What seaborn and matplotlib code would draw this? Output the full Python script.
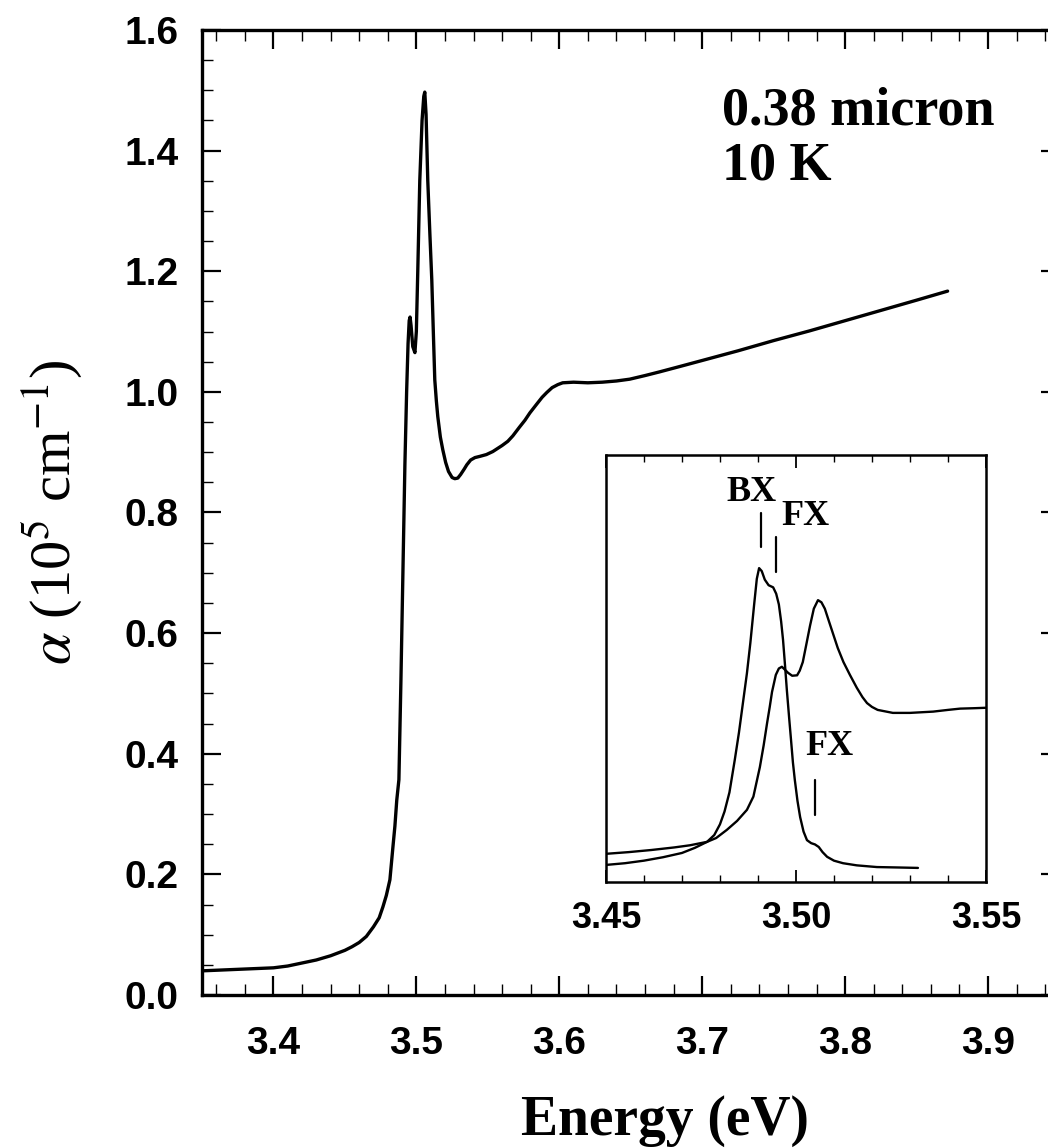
import numpy as np
import pandas as pd
import matplotlib
matplotlib.use("Agg")
import matplotlib.pyplot as plt
from matplotlib.ticker import FixedLocator, MultipleLocator, FormatStrFormatter
import seaborn as sns

# ---- absorption spectrum, 0.38 micron film at 10 K ----
energy_main = [3.3500, 3.3600, 3.3700, 3.3800, 3.3900, 3.4000, 3.4100, 3.4200, 3.4300,
               3.4400, 3.4500, 3.4550, 3.4600, 3.4650, 3.4700, 3.4740, 3.4766, 3.4790,
               3.4815, 3.4836, 3.4850, 3.4863, 3.4878, 3.4892, 3.4906, 3.4920, 3.4932,
               3.4942, 3.4950, 3.4956, 3.4963, 3.4975, 3.4990, 3.5000, 3.5010, 3.5024,
               3.5040, 3.5052, 3.5059, 3.5068, 3.5080, 3.5095, 3.5108, 3.5120, 3.5129,
               3.5140, 3.5150, 3.5168, 3.5185, 3.5205, 3.5225, 3.5250, 3.5269, 3.5290,
               3.5310, 3.5335, 3.5353, 3.5380, 3.5410, 3.5444, 3.5490, 3.5535, 3.5600,
               3.5640, 3.5675, 3.5720, 3.5760, 3.5794, 3.5840, 3.5880, 3.5913, 3.5950,
               3.5990, 3.6024, 3.6100, 3.6200, 3.6300, 3.6400, 3.6493, 3.6600, 3.6700,
               3.6843, 3.7000, 3.7250, 3.7500, 3.7750, 3.8000, 3.8250, 3.8500, 3.8717]
alpha_main = [0.040, 0.041, 0.042, 0.043, 0.044, 0.045, 0.048, 0.053, 0.058,
              0.065, 0.074, 0.080, 0.087, 0.097, 0.113, 0.128, 0.146, 0.165,
              0.191, 0.245, 0.280, 0.323, 0.357, 0.520, 0.700, 0.880, 1.000,
              1.080, 1.118, 1.124, 1.110, 1.075, 1.065, 1.100, 1.200, 1.350,
              1.450, 1.490, 1.497, 1.460, 1.350, 1.260, 1.186, 1.090, 1.020,
              0.985, 0.959, 0.925, 0.904, 0.883, 0.868, 0.858, 0.856, 0.857,
              0.863, 0.872, 0.879, 0.887, 0.891, 0.893, 0.896, 0.901, 0.911,
              0.918, 0.927, 0.941, 0.953, 0.965, 0.979, 0.991, 0.999, 1.007,
              1.012, 1.015, 1.016, 1.015, 1.016, 1.018, 1.021, 1.027, 1.033,
              1.042, 1.052, 1.068, 1.085, 1.101, 1.118, 1.135, 1.152, 1.167]

# ---- inset: band-edge region (arb. units) ----
energy_bx = [3.4500, 3.4550, 3.4600, 3.4650, 3.4700, 3.4734, 3.4766, 3.4785, 3.4800,
             3.4812, 3.4825, 3.4839, 3.4850, 3.4858, 3.4871, 3.4880, 3.4890, 3.4897,
             3.4903, 3.4910, 3.4918, 3.4928, 3.4940, 3.4948, 3.4955, 3.4961, 3.4966,
             3.4971, 3.4976, 3.4982, 3.4987, 3.4992, 3.4997, 3.5004, 3.5011, 3.5020,
             3.5029, 3.5040, 3.5050, 3.5060, 3.5070, 3.5082, 3.5100, 3.5124, 3.5160,
             3.5213, 3.5270, 3.5321]
signal_bx = [0.040, 0.044, 0.050, 0.058, 0.068, 0.080, 0.094, 0.110, 0.135,
             0.165, 0.210, 0.286, 0.350, 0.403, 0.489, 0.560, 0.650, 0.710,
             0.735, 0.728, 0.708, 0.695, 0.690, 0.675, 0.650, 0.610, 0.567,
             0.510, 0.450, 0.385, 0.333, 0.280, 0.239, 0.190, 0.152, 0.118,
             0.098, 0.091, 0.088, 0.082, 0.070, 0.059, 0.050, 0.044, 0.039,
             0.035, 0.034, 0.033]

energy_film = [3.4500, 3.4560, 3.4620, 3.4680, 3.4721, 3.4766, 3.4790, 3.4818, 3.4845,
               3.4871, 3.4888, 3.4905, 3.4915, 3.4924, 3.4931, 3.4937, 3.4947, 3.4955,
               3.4963, 3.4970, 3.4979, 3.4990, 3.5003, 3.5010, 3.5018, 3.5027, 3.5037,
               3.5047, 3.5058, 3.5067, 3.5076, 3.5087, 3.5097, 3.5110, 3.5125, 3.5142,
               3.5160, 3.5175, 3.5187, 3.5200, 3.5215, 3.5255, 3.5300, 3.5361, 3.5400,
               3.5432, 3.5470, 3.5500]
signal_film = [0.066, 0.070, 0.075, 0.081, 0.086, 0.094, 0.103, 0.122, 0.143,
               0.169, 0.200, 0.269, 0.320, 0.372, 0.410, 0.445, 0.485, 0.500,
               0.504, 0.498, 0.490, 0.483, 0.484, 0.495, 0.515, 0.555, 0.600,
               0.640, 0.660, 0.655, 0.640, 0.610, 0.583, 0.548, 0.515, 0.485,
               0.455, 0.433, 0.419, 0.410, 0.403, 0.396, 0.396, 0.399, 0.403,
               0.406, 0.407, 0.408]

main_xticks = [3.4, 3.5, 3.6, 3.7, 3.8, 3.9]
main_yticks = [0.0, 0.2, 0.4, 0.6, 0.8, 1.0, 1.2, 1.4, 1.6]
inset_xticks = [3.45, 3.50, 3.55]

# peak markers in the inset: (label, label x, label y, tick x, tick bottom, tick top)
markers = [("BX", 3.4884, 0.913, 3.4908, 0.785, 0.864),
           ("FX", 3.5026, 0.855, 3.4947, 0.726, 0.808),
           ("FX", 3.5089, 0.318, 3.5050, 0.157, 0.239)]

sns.set_theme(style="ticks")
plt.rcParams["font.family"] = ["Liberation Sans", "DejaVu Sans"]
plt.rcParams["mathtext.fontset"] = "stix"

fig = plt.figure(figsize=(10.48, 11.48), dpi=100)
fig.patch.set_facecolor("white")

# main axes (right edge runs past the figure border)
ax = fig.add_axes([0.1927, 0.1333, 0.8183, 0.8406])
df_main = pd.DataFrame({"E": energy_main, "a": alpha_main})
sns.lineplot(data=df_main, x="E", y="a", ax=ax, color="black", lw=2.4,
             sort=False, estimator=None)
ax.set_xlim(3.35, 3.95)
ax.set_ylim(0.0, 1.6)
ax.xaxis.set_major_locator(FixedLocator(main_xticks))
ax.xaxis.set_minor_locator(MultipleLocator(0.02))
ax.yaxis.set_major_locator(FixedLocator(main_yticks))
ax.yaxis.set_minor_locator(MultipleLocator(0.05))
ax.xaxis.set_major_formatter(FormatStrFormatter("%.1f"))
ax.yaxis.set_major_formatter(FormatStrFormatter("%.1f"))
ax.tick_params(which="both", direction="in", top=True, right=True, color="black")
ax.tick_params(which="major", length=14, width=1.6)
ax.tick_params(which="minor", length=8, width=1.0)
ax.tick_params(axis="x", which="major", pad=22)
ax.tick_params(axis="y", which="major", pad=17)
for lab in ax.get_xticklabels() + ax.get_yticklabels():
    lab.set_fontsize(28)
    lab.set_fontweight("bold")
    lab.set_color("black")
for sp in ax.spines.values():
    sp.set_linewidth(2.4)
    sp.set_color("black")
ax.set_facecolor("white")
ax.grid(False)

ax.set_xlabel("Energy (eV)", fontsize=40, fontweight="bold",
              family="Liberation Serif", color="black")
ax.xaxis.set_label_coords(0.54, -0.104)
ax.set_ylabel(r"$\alpha$ (10$^5$ cm$^{-1}$)", fontsize=42,
              family="Liberation Serif", color="black")
ax.yaxis.set_label_coords(-0.137, 0.5)

ax.text(3.714, 1.464, "0.38 micron", fontsize=39, fontweight="bold",
        family="Liberation Serif", ha="left", va="center", color="black")
ax.text(3.714, 1.373, "10 K", fontsize=39, fontweight="bold",
        family="Liberation Serif", ha="left", va="center", color="black")

# inset
axi = fig.add_axes([0.5782, 0.2317, 0.3626, 0.3720])
sns.lineplot(x=energy_bx, y=signal_bx, ax=axi, color="black", lw=1.7,
             sort=False, estimator=None)
sns.lineplot(x=energy_film, y=signal_film, ax=axi, color="black", lw=1.7,
             sort=False, estimator=None)
axi.set_xlim(3.45, 3.55)
axi.set_ylim(0.0, 1.0)
axi.xaxis.set_major_locator(FixedLocator(inset_xticks))
axi.xaxis.set_minor_locator(MultipleLocator(0.01))
axi.xaxis.set_major_formatter(FormatStrFormatter("%.2f"))
axi.set_yticks([])
axi.tick_params(axis="x", which="both", direction="in", top=True, color="black")
axi.tick_params(axis="x", which="major", length=9, width=1.3, pad=14)
axi.tick_params(axis="x", which="minor", length=5, width=1.0)
for lab in axi.get_xticklabels():
    lab.set_fontsize(26)
    lab.set_fontweight("bold")
    lab.set_color("black")
for sp in axi.spines.values():
    sp.set_linewidth(1.8)
    sp.set_color("black")
axi.set_facecolor("white")
axi.set_xlabel("")
axi.set_ylabel("")

for label, lx, ly, tx, y0, y1 in markers:
    axi.text(lx, ly, label, fontsize=26, fontweight="bold", family="Liberation Serif",
             ha="center", va="center", color="black")
    axi.plot([tx, tx], [y0, y1], color="black", lw=1.6)

fig.savefig("out.png", dpi=100, facecolor="white")
